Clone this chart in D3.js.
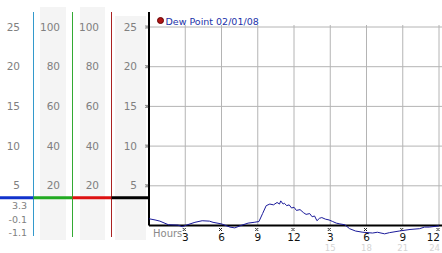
<!DOCTYPE html>
<html>
<head>
<meta charset="utf-8">
<script src="https://cdn.jsdelivr.net/npm/d3@7"></script>
<style>
  body { margin: 0; background: #fff; }
  text { font-family: "DejaVu Sans", Verdana, sans-serif; }
</style>
</head>
<body>
<div id="chart"></div>
<script>
// dew point readings, hours after midnight
const hours = [0, 0.5, 0.9, 1.6, 2.4, 2.75, 3.1, 3.8, 4.4, 5.0, 5.3, 6.0, 6.7, 7.1, 7.6, 8.2, 8.7, 9.1,
  9.4, 9.7, 10.0, 10.3, 10.6, 10.8, 10.9, 11.1, 11.2, 11.4, 11.6, 11.8, 12.0, 12.2, 12.5, 12.8,
  13.0, 13.3, 13.5, 13.7, 13.9, 14.1, 14.3, 14.6, 14.9, 15.2, 15.5, 15.8, 16.2, 16.6, 17.1, 17.7,
  18.5, 18.9, 19.5, 19.9, 20.7, 21.6, 22.4, 22.8, 23.2, 24];
const dewPoint = [0.85, 0.7, 0.55, 0.1, 0.05, -0.15, 0.05, 0.4, 0.6, 0.55, 0.4, 0.2, -0.2, -0.3, 0.0, 0.3, 0.4, 0.5,
  1.5, 2.5, 2.7, 2.6, 2.9, 2.7, 3.1, 2.7, 2.8, 2.5, 2.6, 2.2, 2.3, 1.9, 2.0, 1.6,
  1.4, 1.5, 1.1, 1.2, 0.6, 0.9, 1.0, 0.8, 0.7, 0.5, 0.3, 0.2, 0.1, -0.4, -0.7, -0.85,
  -0.95, -0.85, -1.05, -0.9, -0.7, -0.5, -0.4, -0.2, -0.2, -0.05];

const tempTicks = [5, 10, 15, 20, 25];
const humTicks = [20, 40, 60, 80, 100];
const hourTicks = [3, 6, 9, 12, 15, 18, 21, 24];
const hourLabels = ["3", "6", "9", "12", "3", "6", "9", "12"];
const hour24Ticks = [15, 18, 21, 24];
const currentLevel = 3.5;
const currentLabels = ["3.3", "-0.1", "-1.1"];
const legendLabel = "Dew Point 02/01/08";

const width = 442, height = 253;

const svg = d3.select("#chart").append("svg")
  .attr("width", width)
  .attr("height", height);

const x = d3.scaleLinear().domain([0, 24]).range([149, 439]);
const y = d3.scaleLinear().domain([0, 25]).range([225.5, 27]);

// gray label columns
const bands = [[40, 26, 7], [80, 25, 7], [115, 31, 16]];
svg.selectAll(".band")
  .data(bands)
  .join("rect")
  .attr("class", "band")
  .attr("x", d => d[0])
  .attr("width", d => d[1])
  .attr("y", d => d[2])
  .attr("height", d => 240 - d[2])
  .attr("fill", "#f4f4f4");

// column labels: temperature, humidity, humidity, temperature
const columns = [
  { ticks: tempTicks, right: 20 },
  { ticks: humTicks, right: 60 },
  { ticks: humTicks, right: 99 },
  { ticks: tempTicks, right: 137 }
];
columns.forEach(col => {
  svg.append("g")
    .selectAll("text")
    .data(col.ticks)
    .join("text")
    .attr("x", col.right)
    .attr("y", (d, j) => y(tempTicks[j]))
    .attr("dy", "0.35em")
    .attr("text-anchor", "end")
    .attr("font-size", 10.5)
    .attr("fill", "#808080")
    .text(d => d);
});

// current values below the marker line
svg.selectAll(".cur")
  .data(currentLabels)
  .join("text")
  .attr("class", "cur")
  .attr("x", 27)
  .attr("y", (d, i) => y(currentLevel) + 8 + i * 13.5)
  .attr("dy", "0.35em")
  .attr("text-anchor", "end")
  .attr("font-size", 9.5)
  .attr("fill", "#808080")
  .text(d => d);

// gridlines
svg.append("g")
  .selectAll("line")
  .data(tempTicks)
  .join("line")
  .attr("x1", x(0)).attr("x2", width)
  .attr("y1", d => y(d)).attr("y2", d => y(d))
  .attr("stroke", "#b4b4b4");

svg.append("g")
  .selectAll("line")
  .data(hourTicks)
  .join("line")
  .attr("x1", d => x(d)).attr("x2", d => x(d))
  .attr("y1", y(25) - 2).attr("y2", y(0))
  .attr("stroke", "#b4b4b4");

// vertical column separators
const seps = [
  { x: 33.5, color: "#3399cc", bottom: 236 },
  { x: 72.5, color: "#33aa33", bottom: 237 },
  { x: 111.5, color: "#aa2222", bottom: 237 }
];
svg.selectAll(".sep")
  .data(seps)
  .join("line")
  .attr("class", "sep")
  .attr("x1", d => d.x).attr("x2", d => d.x)
  .attr("y1", 12).attr("y2", d => d.bottom)
  .attr("stroke", d => d.color);

// current level marker line
const segs = [[0, 33.5, "#1133cc"], [33.5, 72.5, "#22aa22"], [72.5, 111.5, "#dd1111"], [111.5, 149, "#000"]];
svg.selectAll(".seg")
  .data(segs)
  .join("line")
  .attr("class", "seg")
  .attr("x1", d => d[0]).attr("x2", d => d[1])
  .attr("y1", y(currentLevel)).attr("y2", y(currentLevel))
  .attr("stroke", d => d[2])
  .attr("stroke-width", 3);

// axes lines
svg.append("line")
  .attr("x1", x(0)).attr("x2", x(0))
  .attr("y1", 12).attr("y2", y(0))
  .attr("stroke", "#000").attr("stroke-width", 2);

svg.append("line")
  .attr("x1", x(0)).attr("x2", width)
  .attr("y1", y(0)).attr("y2", y(0))
  .attr("stroke", "#000").attr("stroke-width", 2);

// little tick markers
const marker = "M-1.5,-2h1M0.5,-2h1M-0.5,-1h1M-1.5,0h1M0.5,0h1";
svg.append("g")
  .selectAll("path")
  .data(tempTicks)
  .join("path")
  .attr("transform", d => `translate(${x(0) - 2},${y(d) + 1})`)
  .attr("d", marker)
  .attr("stroke", "#222").attr("stroke-width", 1).attr("fill", "none");

svg.append("g")
  .selectAll("path")
  .data(hourTicks)
  .join("path")
  .attr("transform", d => `translate(${x(d) - 1},${y(0) + 5})`)
  .attr("d", marker)
  .attr("stroke", "#222").attr("stroke-width", 1).attr("fill", "none");

// hour labels, last one kept inside the frame
svg.append("g")
  .selectAll("text")
  .data(hourTicks)
  .join("text")
  .attr("x", d => d === 24 ? x(d) + 1 : x(d))
  .attr("y", 241)
  .attr("text-anchor", d => d === 24 ? "end" : "middle")
  .attr("font-size", 10.5)
  .attr("fill", "#111")
  .text((d, i) => hourLabels[i]);

svg.append("g")
  .selectAll("text")
  .data(hour24Ticks)
  .join("text")
  .attr("x", d => d === 24 ? x(d) + 1 : x(d))
  .attr("y", 251)
  .attr("text-anchor", d => d === 24 ? "end" : "middle")
  .attr("font-size", 8.5)
  .attr("fill", "#d4d4d4")
  .text(d => d);

svg.append("text")
  .attr("x", 153)
  .attr("y", 237)
  .attr("font-size", 10)
  .attr("fill", "#8a8a8a")
  .text("Hours");

// dew point line
const line = d3.line()
  .x((d, i) => x(hours[i]))
  .y(d => y(d));

svg.append("path")
  .datum(dewPoint)
  .attr("d", line)
  .attr("fill", "none")
  .attr("stroke", "#1a1a9a")
  .attr("stroke-width", 1);

// legend
svg.append("circle")
  .attr("cx", 160.5).attr("cy", 20.5).attr("r", 3)
  .attr("fill", "#b01515").attr("stroke", "#600");

svg.append("text")
  .attr("x", 165.5)
  .attr("y", 24.5)
  .attr("font-size", 9.5)
  .attr("fill", "#2233aa")
  .text(legendLabel);
</script>
</body>
</html>
